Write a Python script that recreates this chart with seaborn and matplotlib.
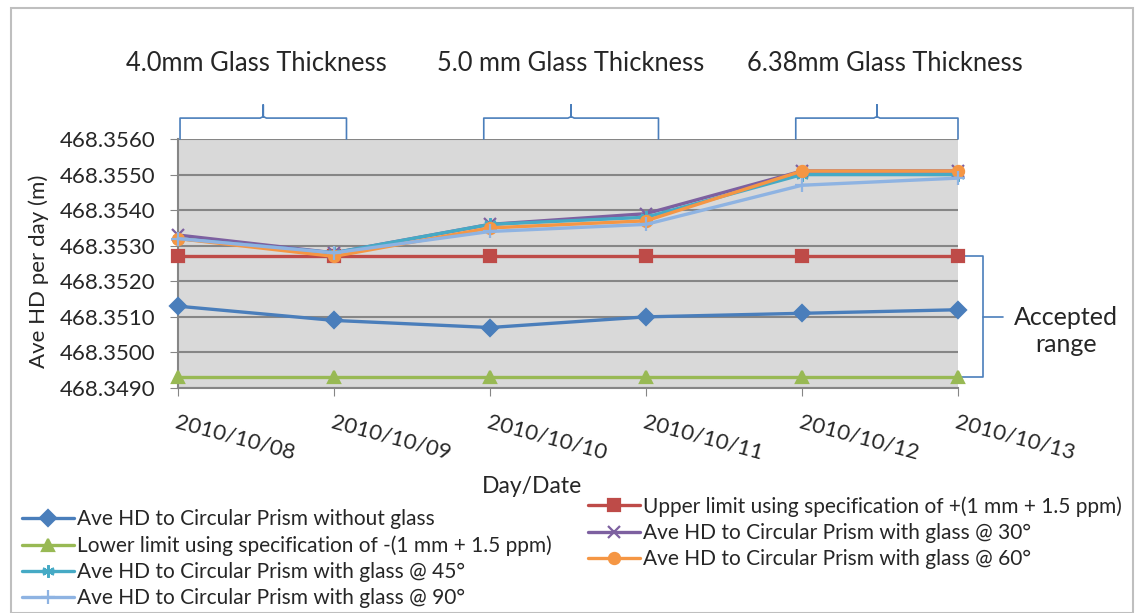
import numpy as np
import pandas as pd
import matplotlib
matplotlib.use("Agg")
import matplotlib.pyplot as plt
import matplotlib.transforms as mtransforms
from matplotlib.patches import Rectangle
from matplotlib.ticker import FormatStrFormatter, MultipleLocator
import seaborn as sns

# 데이터
dates = ['2010/10/08', '2010/10/09', '2010/10/10', '2010/10/11', '2010/10/12', '2010/10/13']
no_glass = [468.3513, 468.3509, 468.3507, 468.3510, 468.3511, 468.3512]
upper_limit = [468.3527, 468.3527, 468.3527, 468.3527, 468.3527, 468.3527]
lower_limit = [468.3493, 468.3493, 468.3493, 468.3493, 468.3493, 468.3493]
glass_30 = [468.3533, 468.3528, 468.3536, 468.3539, 468.3551, 468.3551]
glass_45 = [468.3532, 468.3528, 468.3536, 468.3538, 468.3550, 468.3550]
glass_60 = [468.3532, 468.3527, 468.3535, 468.3537, 468.3551, 468.3551]
glass_90 = [468.3532, 468.3528, 468.3534, 468.3536, 468.3547, 468.3549]

thickness_labels = ['4.0mm Glass Thickness', '5.0 mm Glass Thickness', '6.38mm Glass Thickness']

series = [
    ('Ave HD to Circular Prism without glass', no_glass, '#4A7EBB', 'D', 8),
    ('Upper limit using specification of +(1 mm + 1.5 ppm)', upper_limit, '#BE4B48', 's', 9),
    ('Lower limit using specification of -(1 mm + 1.5 ppm)', lower_limit, '#98B954', '^', 9),
    ('Ave HD to Circular Prism with glass @ 30°', glass_30, '#7D60A0', 'x', 8),
    ('Ave HD to Circular Prism with glass @ 45°', glass_45, '#46AAC5', (6, 2, 0), 9),
    ('Ave HD to Circular Prism with glass @ 60°', glass_60, '#F59644', 'o', 8),
    ('Ave HD to Circular Prism with glass @ 90°', glass_90, '#8EB3E2', '+', 10),
]

sns.set_style('white')
plt.rcParams['font.family'] = ['Lato', 'DejaVu Sans']
text_color = '#262626'

fig = plt.figure(figsize=(11.4, 6.13), dpi=100)
ax = fig.add_axes([178 / 1140, 1 - 388 / 613, (958 - 178) / 1140, (388 - 139) / 613])
ax.set_facecolor('#D9D9D9')

x = np.arange(len(dates))
handles = {}
for name, vals, color, marker, ms in series:
    df = pd.DataFrame({'x': x, 'y': vals})
    sns.lineplot(data=df, x='x', y='y', ax=ax, color=color, marker=marker,
                 markersize=ms, markeredgecolor=color, markeredgewidth=1.6,
                 linewidth=2.4, clip_on=False, zorder=3, label=name)
    handles[name] = ax.lines[-1]
ax.get_legend().remove()

# 축 설정
ax.set_xlim(0, 5)
ax.set_ylim(468.3490, 468.3560)
ax.yaxis.set_major_locator(MultipleLocator(0.001))
ax.yaxis.set_major_formatter(FormatStrFormatter('%.4f'))
ax.yaxis.grid(True, color='#868686', linewidth=1.5, zorder=1)
ax.set_axisbelow(True)
ax.set_xticks(x)
ax.set_xticklabels(dates, rotation=-15, ha='left', rotation_mode='anchor', fontsize=16, color=text_color)
ax.tick_params(axis='y', labelsize=16, labelcolor=text_color, length=6, color='#868686',
               direction='out', left=True, pad=10)
ax.tick_params(axis='x', length=6, color='#868686', direction='out', bottom=True, pad=11)
for s in ['top', 'right']:
    ax.spines[s].set_visible(False)
for s in ['left', 'bottom']:
    ax.spines[s].set_color('#868686')
    ax.spines[s].set_linewidth(1.5)
ax.set_xlabel('Day/Date', fontsize=16.5, color=text_color, labelpad=0)
ax.xaxis.set_label_coords((532 - 178) / 780, -(476 - 388) / 249)
ax.set_ylabel('Ave HD per day (m)', fontsize=16, color=text_color)
ax.yaxis.set_label_coords(-(178 - 49) / 780, 0.47)

# 상단 괄호 (유리 두께)
brace_color = '#4A7EBB'
tr = mtransforms.blended_transform_factory(ax.transData, ax.transAxes)
spans = [(0.013, 1.08), (1.96, 3.08), (3.96, 5.0)]
for a, b in spans:
    m = (a + b) / 2
    ax.plot([a, a, m - 0.02, m, m, m, m + 0.02, b, b],
            [1.0, 1.084, 1.084, 1.09, 1.137, 1.09, 1.084, 1.084, 1.0],
            color=brace_color, lw=1.2, transform=tr, clip_on=False)
label_x = [0.5, 2.52, 4.53]
for lx, lab in zip(label_x, thickness_labels):
    ax.text(lx, 1.305, lab, transform=tr, ha='center', va='center', fontsize=18.4, color=text_color)

# 오른쪽 허용 범위 괄호
ymid = (upper_limit[-1] + lower_limit[-1]) / 2
ax.plot([5.02, 5.16, 5.16, 5.02], [upper_limit[-1], upper_limit[-1], lower_limit[-1], lower_limit[-1]],
        color=brace_color, lw=1.2, clip_on=False)
ax.plot([5.16, 5.29], [ymid, ymid], color=brace_color, lw=1.2, clip_on=False)
ax.annotate('Accepted\nrange', xy=(5.69, ymid), xytext=(0, -10), textcoords='offset points',
            ha='center', va='center', fontsize=18, color=text_color, linespacing=1.2,
            annotation_clip=False)

# 범례 (2열)
left_names = [series[i][0] for i in (0, 2, 4, 6)]
right_names = [series[i][0] for i in (1, 3, 5)]
leg_kw = dict(frameon=False, fontsize=15, handlelength=2.5, handletextpad=0.15,
              labelspacing=0.3, borderaxespad=0, borderpad=0, labelcolor=text_color)
leg1 = fig.legend([handles[n] for n in left_names], left_names, loc='upper left',
                  bbox_to_anchor=(22 / 1140, 1 - 509 / 613), **leg_kw)
leg2 = fig.legend([handles[n] for n in right_names], right_names, loc='upper left',
                  bbox_to_anchor=(588 / 1140, 1 - 496 / 613), **leg_kw)

# 외곽 테두리
fig.patches.append(Rectangle((11 / 1140, 0.0), 1 - 18 / 1140, 1 - 8 / 613, transform=fig.transFigure,
                             fill=False, edgecolor='#BFBFBF', linewidth=1.5))

fig.savefig('out.png', dpi=100, facecolor='white')
